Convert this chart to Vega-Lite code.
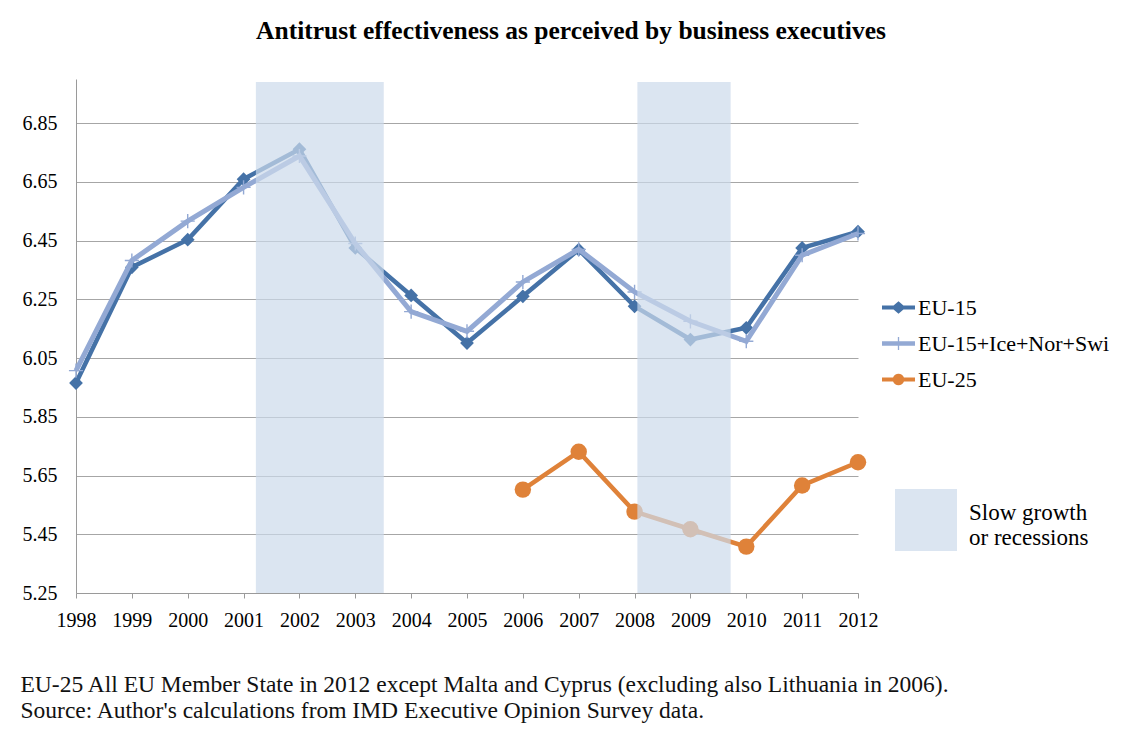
{
  "$schema": "https://vega.github.io/schema/vega-lite/v6.json",
  "autosize": "none",
  "width": 782,
  "height": 514,
  "padding": {"left": 76, "top": 79, "right": 274, "bottom": 139},
  "background": "white",
  "config": {
    "view": {"stroke": null},
    "font": "Liberation Serif",
    "axis": {"labelFont": "Liberation Serif", "titleFont": "Liberation Serif", "labelColor": "#000000", "labelFontSize": 20},
    "legend": {"labelFont": "Liberation Serif", "labelFontSize": 22, "labelColor": "#000000"}
  },
  "title": {
    "text": "Antitrust effectiveness  as  perceived  by  business  executives",
    "font": "Liberation Serif",
    "fontSize": 25.5,
    "fontWeight": "bold",
    "color": "#000000",
    "anchor": "middle",
    "frame": "group",
    "baseline": "alphabetic",
    "offset": 15,
    "dx": 104
  },
  "datasets": {
    "series": [
      {"year": 1998, "series": "EU-15", "value": 5.965},
      {"year": 1999, "series": "EU-15", "value": 6.359},
      {"year": 2000, "series": "EU-15", "value": 6.453},
      {"year": 2001, "series": "EU-15", "value": 6.659},
      {"year": 2002, "series": "EU-15", "value": 6.761},
      {"year": 2003, "series": "EU-15", "value": 6.425},
      {"year": 2004, "series": "EU-15", "value": 6.263},
      {"year": 2005, "series": "EU-15", "value": 6.101},
      {"year": 2006, "series": "EU-15", "value": 6.26},
      {"year": 2007, "series": "EU-15", "value": 6.419},
      {"year": 2008, "series": "EU-15", "value": 6.226},
      {"year": 2009, "series": "EU-15", "value": 6.113},
      {"year": 2010, "series": "EU-15", "value": 6.153},
      {"year": 2011, "series": "EU-15", "value": 6.425},
      {"year": 2012, "series": "EU-15", "value": 6.48},
      {"year": 1998, "series": "EU-15+Ice+Nor+Swi", "value": 6.007},
      {"year": 1999, "series": "EU-15+Ice+Nor+Swi", "value": 6.382},
      {"year": 2000, "series": "EU-15+Ice+Nor+Swi", "value": 6.516},
      {"year": 2001, "series": "EU-15+Ice+Nor+Swi", "value": 6.631},
      {"year": 2002, "series": "EU-15+Ice+Nor+Swi", "value": 6.738},
      {"year": 2003, "series": "EU-15+Ice+Nor+Swi", "value": 6.44},
      {"year": 2004, "series": "EU-15+Ice+Nor+Swi", "value": 6.208},
      {"year": 2005, "series": "EU-15+Ice+Nor+Swi", "value": 6.141},
      {"year": 2006, "series": "EU-15+Ice+Nor+Swi", "value": 6.309},
      {"year": 2007, "series": "EU-15+Ice+Nor+Swi", "value": 6.42},
      {"year": 2008, "series": "EU-15+Ice+Nor+Swi", "value": 6.275},
      {"year": 2009, "series": "EU-15+Ice+Nor+Swi", "value": 6.175},
      {"year": 2010, "series": "EU-15+Ice+Nor+Swi", "value": 6.107},
      {"year": 2011, "series": "EU-15+Ice+Nor+Swi", "value": 6.4},
      {"year": 2012, "series": "EU-15+Ice+Nor+Swi", "value": 6.474},
      {"year": 2006, "series": "EU-25", "value": 5.602},
      {"year": 2007, "series": "EU-25", "value": 5.731},
      {"year": 2008, "series": "EU-25", "value": 5.527},
      {"year": 2009, "series": "EU-25", "value": 5.467},
      {"year": 2010, "series": "EU-25", "value": 5.408},
      {"year": 2011, "series": "EU-25", "value": 5.616},
      {"year": 2012, "series": "EU-25", "value": 5.695}
    ],
    "bands": [
      {"start": 2001.22, "end": 2003.51, "label": "Slow growth or recessions"},
      {"start": 2008.05, "end": 2009.72, "label": "Slow growth or recessions"}
    ]
  },
  "layer": [
    {
      "data": {"name": "series"},
      "mark": {"type": "point", "filled": true, "opacity": 0, "size": 1},
      "encoding": {
        "x": {
          "field": "year", "type": "quantitative",
          "scale": {"domain": [1998, 2012], "nice": false, "zero": false},
          "axis": {
            "values": [1998, 1999, 2000, 2001, 2002, 2003, 2004, 2005, 2006, 2007, 2008, 2009, 2010, 2011, 2012],
            "format": "d",
            "grid": false,
            "domainColor": "#9a9a9a",
            "tickColor": "#9a9a9a",
            "tickSize": 5,
            "labelPadding": 12,
            "labelFlush": false,
            "labelOverlap": false,
            "title": ["EU-25 All EU Member State in 2012 except Malta and Cyprus (excluding also Lithuania in 2006).", "Source: Author's calculations from  IMD Executive Opinion Survey data."],
            "titleFontSize": 23.5,
            "titleFontWeight": "normal",
            "titleColor": "#111111",
            "titleAlign": "left",
            "titleAnchor": "start",
            "titleBaseline": "alphabetic",
            "titleX": -56,
            "titleY": 98,
            "titleLineHeight": 26
          }
        },
        "y": {
          "field": "value", "type": "quantitative",
          "scale": {"domain": [5.25, 7.0], "nice": false, "zero": false},
          "axis": {
            "values": [5.25, 5.45, 5.65, 5.85, 6.05, 6.25, 6.45, 6.65, 6.85],
            "format": ".2f",
            "grid": true,
            "gridColor": "#a6a6a6",
            "gridWidth": 1,
            "domainColor": "#9a9a9a",
            "ticks": false,
            "labelPadding": 19,
            "title": null
          }
        },
        "color": {
          "field": "series", "type": "nominal",
          "scale": {"domain": ["EU-15", "EU-15+Ice+Nor+Swi", "EU-25"], "range": ["#4572a7", "#93a9d4", "#df8239"]},
          "legend": {"title": null, "orient": "none", "legendX": 806, "legendY": 212, "symbolSize": 1089, "symbolOpacity": 1, "symbolStrokeWidth": 0, "labelOffset": 3, "rowPadding": 8, "labelLimit": 400}
        },
        "shape": {
          "field": "series", "type": "nominal",
          "scale": {"domain": ["EU-15", "EU-15+Ice+Nor+Swi", "EU-25"], "range": [
            "M-1,-0.12H-0.3L0,-0.38L0.3,-0.12H1V0.12H0.3L0,0.38L-0.3,0.12H-1Z",
            "M-1,-0.13H-0.04V-0.4H0.04V-0.13H1V0.13H0.04V0.4H-0.04V0.13H-1Z",
            "M-1,-0.12H-0.33A0.35,0.35 0 0 1 0.33,-0.12H1V0.12H0.33A0.35,0.35 0 0 1 -0.33,0.12H-1Z"
          ]},
          "legend": {"title": null, "orient": "none", "legendX": 806, "legendY": 212, "symbolSize": 1089, "symbolOpacity": 1, "symbolStrokeWidth": 0, "labelOffset": 3, "rowPadding": 8, "labelLimit": 400}
        }
      }
    },
    {
      "data": {"name": "series"},
      "transform": [{"filter": "datum.series === 'EU-15'"}],
      "mark": {"type": "line", "color": "#4572a7", "strokeWidth": 4.5},
      "encoding": {"x": {"field": "year", "type": "quantitative"}, "y": {"field": "value", "type": "quantitative"}}
    },
    {
      "data": {"name": "series"},
      "transform": [{"filter": "datum.series === 'EU-15'"}],
      "mark": {"type": "point", "shape": "diamond", "filled": true, "color": "#4572a7", "size": 190, "opacity": 1},
      "encoding": {"x": {"field": "year", "type": "quantitative"}, "y": {"field": "value", "type": "quantitative"}}
    },
    {
      "data": {"name": "series"},
      "transform": [{"filter": "datum.series === 'EU-15+Ice+Nor+Swi'"}],
      "mark": {"type": "line", "color": "#93a9d4", "strokeWidth": 5},
      "encoding": {"x": {"field": "year", "type": "quantitative"}, "y": {"field": "value", "type": "quantitative"}}
    },
    {
      "data": {"name": "series"},
      "transform": [{"filter": "datum.series === 'EU-15+Ice+Nor+Swi'"}],
      "mark": {"type": "point", "shape": "M-1,-0.1H1V0.1H-1Z M-0.1,-1H0.1V1H-0.1Z", "filled": true, "color": "#93a9d4", "size": 200, "opacity": 1},
      "encoding": {"x": {"field": "year", "type": "quantitative"}, "y": {"field": "value", "type": "quantitative"}}
    },
    {
      "data": {"name": "series"},
      "transform": [{"filter": "datum.series === 'EU-25'"}],
      "mark": {"type": "line", "color": "#df8239", "strokeWidth": 4.5},
      "encoding": {"x": {"field": "year", "type": "quantitative"}, "y": {"field": "value", "type": "quantitative"}}
    },
    {
      "data": {"name": "series"},
      "transform": [{"filter": "datum.series === 'EU-25'"}],
      "mark": {"type": "point", "shape": "circle", "filled": true, "color": "#df8239", "size": 270, "opacity": 1},
      "encoding": {"x": {"field": "year", "type": "quantitative"}, "y": {"field": "value", "type": "quantitative"}}
    },
    {
      "data": {"name": "bands"},
      "mark": {"type": "rect", "opacity": 0.7},
      "encoding": {
        "x": {"field": "start", "type": "quantitative"},
        "x2": {"field": "end"},
        "y": {"datum": 5.25, "type": "quantitative"},
        "y2": {"datum": 6.99},
        "fill": {
          "field": "label", "type": "nominal",
          "scale": {"range": ["#ccdaeb"]},
          "legend": {"title": null, "orient": "none", "legendX": 819, "legendY": 410, "symbolType": "square", "symbolSize": 3844, "symbolOpacity": 0.7, "symbolStrokeWidth": 0, "labelOffset": 12, "labelFontSize": 23, "labelBaseline": "alphabetic", "labelExpr": "['Slow growth', 'or recessions']", "labelLimit": 300}
        }
      }
    }
  ]
}
